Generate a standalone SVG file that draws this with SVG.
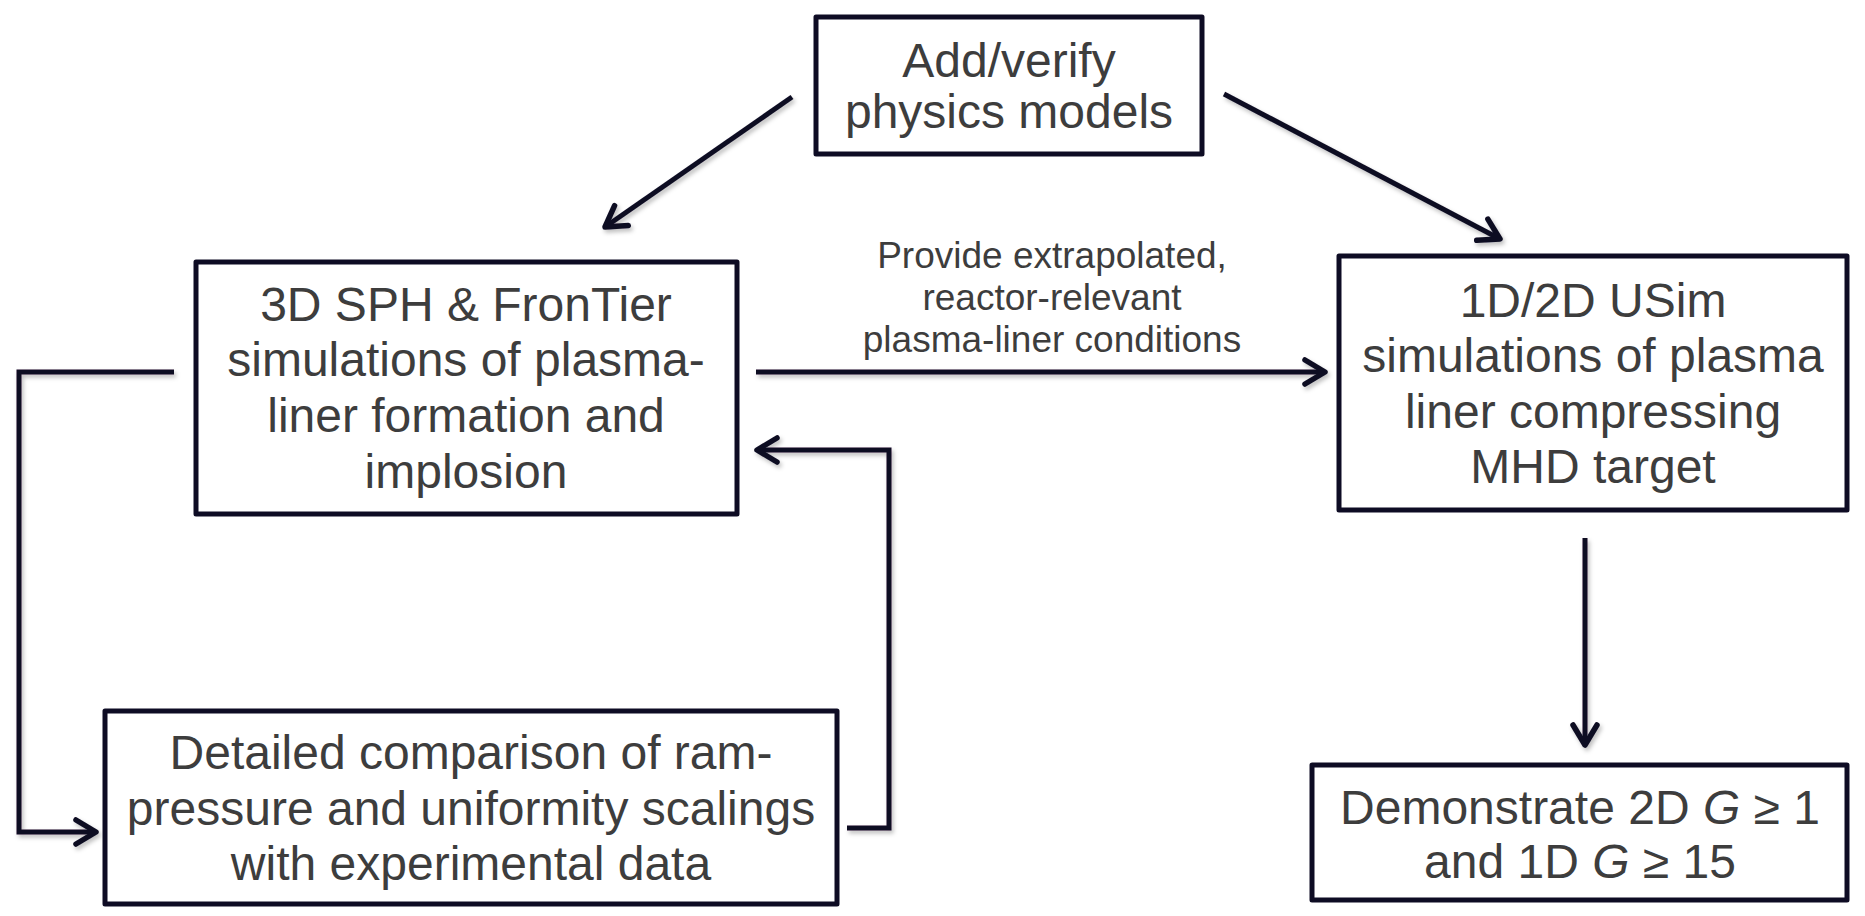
<svg xmlns="http://www.w3.org/2000/svg" width="1865" height="916" viewBox="0 0 1865 916">
  <style>
    .box { fill: #ffffff; stroke: #0e0c24; stroke-width: 5; stroke-linejoin: round; }
    .t { font-family: "Liberation Sans", Arial, sans-serif; font-size: 48px; fill: #3d3d3d; text-anchor: middle; }
    .lbl { font-family: "Liberation Sans", Arial, sans-serif; font-size: 37px; fill: #3d3d3d; text-anchor: middle; }
    .conn { fill: none; stroke: #0e0c24; stroke-width: 5; stroke-linejoin: miter; marker-end: url(#arr); }
  </style>
  <defs>
    <marker id="arr" viewBox="-26 -16 32 32" refX="0" refY="0" markerWidth="32" markerHeight="32" markerUnits="userSpaceOnUse" orient="auto">
      <path d="M-20,-12 L0,0 L-20,12" fill="none" stroke="#0e0c24" stroke-width="5.5" stroke-linecap="round" stroke-linejoin="round"/>
    </marker>
    <filter id="sh" x="-10%" y="-10%" width="120%" height="120%">
      <feDropShadow dx="2" dy="3" stdDeviation="2" flood-color="#000000" flood-opacity="0.25"/>
    </filter>
  </defs>

  <rect width="1865" height="916" fill="#ffffff"/>

  <g id="connectors" filter="url(#sh)">
    <line class="conn" x1="792" y1="97" x2="605" y2="227"/>
    <line class="conn" x1="1224" y1="94" x2="1500" y2="239"/>
    <line class="conn" x1="756" y1="372" x2="1325" y2="372"/>
    <polyline class="conn" points="174,372 19,372 19,832 96,832"/>
    <polyline class="conn" points="847,828 889,828 889,450 757,450"/>
    <line class="conn" x1="1585" y1="538" x2="1585" y2="745"/>
  </g>

  <g id="label-provide">
    <text class="lbl" x="1052" y="268">Provide extrapolated,</text>
    <text class="lbl" x="1052" y="310">reactor-relevant</text>
    <text class="lbl" x="1052" y="352">plasma-liner conditions</text>
  </g>

  <g id="node-physics">
    <rect class="box" x="816" y="17" width="386" height="137"/>
    <text class="t" x="1009" y="77">Add/verify</text>
    <text class="t" x="1009" y="128">physics models</text>
  </g>

  <g id="node-sph">
    <rect class="box" x="196" y="262" width="541" height="252"/>
    <text class="t" x="466" y="321">3D SPH &amp; FronTier</text>
    <text class="t" x="466" y="376">simulations of plasma-</text>
    <text class="t" x="466" y="432">liner formation and</text>
    <text class="t" x="466" y="488">implosion</text>
  </g>

  <g id="node-usim">
    <rect class="box" x="1339" y="256" width="508" height="254"/>
    <text class="t" x="1593" y="317">1D/2D USim</text>
    <text class="t" x="1593" y="372">simulations of plasma</text>
    <text class="t" x="1593" y="428">liner compressing</text>
    <text class="t" x="1593" y="483">MHD target</text>
  </g>

  <g id="node-detailed">
    <rect class="box" x="105" y="711" width="732" height="193"/>
    <text class="t" x="471" y="769">Detailed comparison of ram-</text>
    <text class="t" x="471" y="825">pressure and uniformity scalings</text>
    <text class="t" x="471" y="880">with experimental data</text>
  </g>

  <g id="node-demonstrate">
    <rect class="box" x="1312" y="765" width="535" height="135"/>
    <text class="t" x="1580" y="824">Demonstrate 2D <tspan font-style="italic">G</tspan> ≥ 1</text>
    <text class="t" x="1580" y="878">and 1D <tspan font-style="italic">G</tspan> ≥ 15</text>
  </g>
</svg>
